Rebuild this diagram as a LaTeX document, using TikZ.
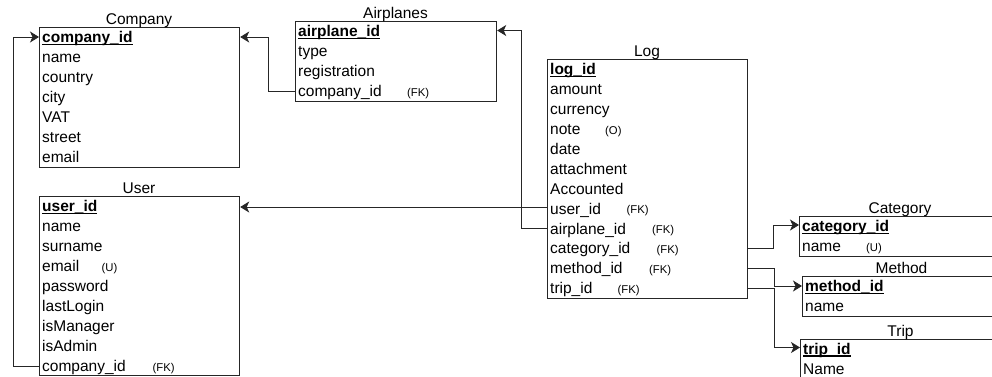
\documentclass[tikz,border=0pt]{standalone}
\usepackage{fontspec}
\setmainfont{Liberation Sans}
\usetikzlibrary{arrows.meta}
\newcommand\pkey[1]{\setbox0\hbox{\bfseries #1}\rlap{\rule[-2.6pt]{\wd0}{1.3pt}}\box0}
\newcommand\fmain{\fontsize{15.5}{18}\selectfont}
\newcommand\fsmall{\fontsize{11.3}{13}\selectfont}
\begin{document}
\begin{tikzpicture}[x=1pt,y=-1pt,
  tbl/.style={draw=black!85, line width=1.2pt, anchor=north west, inner sep=0pt, minimum width=#1},
  fld/.style={anchor=base west, inner sep=0pt, font=\fmain},
  ttl/.style={anchor=base, inner sep=0pt, font=\fmain},
  ann/.style={anchor=base west, inner sep=0pt, font=\fsmall},
  conn/.style={draw=black!85, line width=0.9pt, -{Stealth[length=9pt,width=11pt,inset=2.5pt]}}]
\useasboundingbox (0,0) rectangle (992,376);
\clip (0,0) rectangle (992,376);

% ---------------- Company
\node[tbl=200pt, minimum height=140pt] (company) at (39,27) {};
\node[ttl] (companyT) at (139,24) {Company};
\node[fld] (c1) at (42,42.5) {\pkey{company\_id}};
\node[fld] (c2) at (42,62.5) {name};
\node[fld] (c3) at (42,82.5) {country};
\node[fld] (c4) at (42,102.5) {city};
\node[fld] (c5) at (42,122.5) {VAT};
\node[fld] (c6) at (42,142.5) {street};
\node[fld] (c7) at (42,162.5) {email};

% ---------------- Airplanes
\node[tbl=201pt, minimum height=80pt] (air) at (295,21) {};
\node[ttl] (airT) at (395.5,18) {Airplanes};
\node[fld] (a1) at (298,36.5) {\pkey{airplane\_id}};
\node[fld] (a2) at (298,56.5) {type};
\node[fld] (a3) at (298,76.5) {registration};
\node[fld] (a4) at (298,96.5) {company\_id};
\node[ann] (a4n) at (407,96) {(FK)};

% ---------------- Log
\node[tbl=200pt, minimum height=239pt] (log) at (547,59) {};
\node[ttl] (logT) at (647,56) {Log};
\node[fld] (l1) at (550,74.5) {\pkey{log\_id}};
\node[fld] (l2) at (550,94.5) {amount};
\node[fld] (l3) at (550,114.5) {currency};
\node[fld] (l4) at (550,134.5) {note};
\node[ann] (l4n) at (605,134) {(O)};
\node[fld] (l5) at (550,154.5) {date};
\node[fld] (l6) at (550,174.5) {attachment};
\node[fld] (l7) at (550,194.5) {Accounted};
\node[fld] (l8) at (550,214) {user\_id};
\node[ann] (l8n) at (626.5,213.5) {(FK)};
\node[fld] (l9) at (550,234) {airplane\_id};
\node[ann] (l9n) at (652,233.5) {(FK)};
\node[fld] (l10) at (550,253.5) {category\_id};
\node[ann] (l10n) at (656.5,253) {(FK)};
\node[fld] (l11) at (550,273.5) {method\_id};
\node[ann] (l11n) at (649,273) {(FK)};
\node[fld] (l12) at (550,293.5) {trip\_id};
\node[ann] (l12n) at (617.5,293) {(FK)};

% ---------------- User
\node[tbl=200pt, minimum height=179pt] (user) at (39,196) {};
\node[ttl] (userT) at (139,193) {User};
\node[fld] (u1) at (42,211.5) {\pkey{user\_id}};
\node[fld] (u2) at (42,231.5) {name};
\node[fld] (u3) at (42,251.5) {surname};
\node[fld] (u4) at (42,271.5) {email};
\node[ann] (u4n) at (101.5,271) {(U)};
\node[fld] (u5) at (42,291.5) {password};
\node[fld] (u6) at (42,311.5) {lastLogin};
\node[fld] (u7) at (42,331.5) {isManager};
\node[fld] (u8) at (42,351.5) {isAdmin};
\node[fld] (u9) at (42,371.5) {company\_id};
\node[ann] (u9n) at (152.5,371) {(FK)};

% ---------------- Category
\node[tbl=202pt, minimum height=40pt] (cat) at (799,216) {};
\node[ttl] (catT) at (900,213) {Category};
\node[fld] (k1) at (802,231.5) {\pkey{category\_id}};
\node[fld] (k2) at (802,251.5) {name};
\node[ann] (k2n) at (866,251) {(U)};

% ---------------- Method
\node[tbl=199pt, minimum height=40pt] (met) at (802,276) {};
\node[ttl] (metT) at (901.5,273) {Method};
\node[fld] (m1) at (805,291.5) {\pkey{method\_id}};
\node[fld] (m2) at (805,311.5) {name};

% ---------------- Trip
\node[tbl=201pt, minimum height=40pt] (trip) at (800,339) {};
\node[ttl] (tripT) at (900.5,336) {Trip};
\node[fld] (t1) at (803,354) {\pkey{trip\_id}};
\node[fld] (t2) at (803,374) {Name};

% ---------------- connector end points
\coordinate (cidL) at (company.west |- 0,37);
\coordinate (cidR) at (company.east |- 0,37);
\coordinate (ucid) at (user.west |- 0,366);
\coordinate (uidR) at (user.east |- 0,207);
\coordinate (acid) at (air.west |- 0,91);
\coordinate (aidR) at (air.east |- 0,30.5);
\coordinate (luid) at (log.west |- 0,207);
\coordinate (laid) at (log.west |- 0,228.5);
\coordinate (lcat) at (log.east |- 0,248);
\coordinate (lmet) at (log.east |- 0,268);
\coordinate (ltrip) at (log.east |- 0,288);
\coordinate (catid) at (cat.west |- 0,225);
\coordinate (metid) at (met.west |- 0,286);
\coordinate (tripid) at (trip.west |- 0,347.5);

% ---------------- connectors
\draw[conn] (ucid) -- ++(-26,0) |- (cidL);
\draw[conn] (acid) -- ++(-27,0) |- (cidR);
\draw[conn] (laid) -- ++(-26,0) |- (aidR);
\draw[conn] (luid) -- (uidR);
\draw[conn] (lcat) -- ++(25,0) |- (catid);
\draw[conn] (lmet) -- ++(26,0) |- (metid);
\draw[conn] (ltrip) -- ++(26,0) |- (tripid);
\end{tikzpicture}
\end{document}
